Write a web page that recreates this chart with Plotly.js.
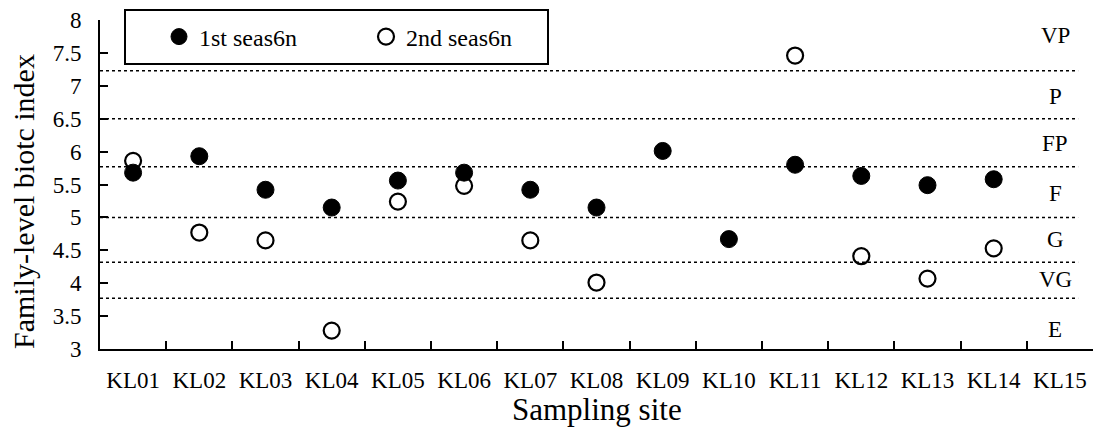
<!DOCTYPE html>
<html><head><meta charset="utf-8">
<script src="https://cdn.plot.ly/plotly-3.0.1.min.js"></script>
<style>html,body{margin:0;padding:0;background:#fff}#chart{width:1098px;height:428px}</style>
</head><body><div id="chart"></div>
<script>
const sites = ['KL01','KL02','KL03','KL04','KL05','KL06','KL07','KL08','KL09','KL10','KL11','KL12','KL13','KL14','KL15'];
const season1 = [5.68, 5.93, 5.42, 5.15, 5.56, 5.68, 5.42, 5.15, 6.01, 4.67, 5.80, 5.63, 5.49, 5.58, null];
const season2 = [5.86, 4.77, 4.65, 3.28, 5.24, 5.48, 4.65, 4.01, null, null, 7.46, 4.41, 4.07, 4.53, null];
const thresholds = [7.23, 6.5, 5.77, 5.0, 4.32, 3.77];
const classLabels = ['VP', 'P', 'FP', 'F', 'G', 'VG', 'E'];
const classLabelY = [7.76, 6.83, 6.12, 5.36, 4.67, 4.05, 3.29];
const yTicks = [3, 3.5, 4, 4.5, 5, 5.5, 6, 6.5, 7, 7.5, 8];
const xTitle = 'Sampling site';
const yTitle = 'Family-level biotc index';

const font = '"Liberation Serif", "Times New Roman", serif';

const traces = [
  {type:'scatter', mode:'markers', name:'1st seas6n', x:sites, y:season1,
   marker:{symbol:'circle', size:17, color:'#000', line:{color:'#000', width:1}}},
  {type:'scatter', mode:'markers', name:'2nd seas6n', x:sites, y:season2,
   marker:{symbol:'circle-open', size:16, color:'#000', line:{color:'#000', width:2.2}}}
];

const shapes = thresholds.map(v => ({type:'line', xref:'paper', yref:'y', x0:0, x1:0.985, y0:v, y1:v,
  line:{color:'#000', width:1.5, dash:'dot'}, layer:'below'}));
shapes.push({type:'rect', xref:'paper', yref:'paper', x0:(125-100)/993, x1:(548-100)/993, y0:(349-64)/329, y1:(349-10)/329,
  line:{color:'#000', width:2}, fillcolor:'rgba(0,0,0,0)'});

const annotations = classLabels.map((t,i) => ({text:t, xref:'paper', yref:'y', x:0.962, y:classLabelY[i],
  showarrow:false, xanchor:'center', yanchor:'middle', font:{family:font, size:23, color:'#000'}}));
annotations.push({text:xTitle, xref:'paper', yref:'paper', x:0.5, y:(349-428)/329, xanchor:'center', yanchor:'bottom',
  showarrow:false, borderpad:0, font:{family:font, size:31, color:'#000'}});
annotations.push({text:yTitle, xref:'paper', yref:'paper', x:(23-100)/993, y:(349-202)/329, xanchor:'center', yanchor:'middle',
  textangle:-90, showarrow:false, font:{family:font, size:30, color:'#000'}});

const layout = {
  width:1098, height:428,
  margin:{l:100, r:5, t:20, b:79},
  paper_bgcolor:'#fff', plot_bgcolor:'#fff',
  font:{family:font, size:22, color:'#000'},
  showlegend:true,
  legend:{orientation:'h', x:(159-100)/993, y:(349-37)/329, xanchor:'left', yanchor:'middle',
    bgcolor:'rgba(0,0,0,0)', borderwidth:0, entrywidth:162, font:{family:font, size:24, color:'#000'}},
  xaxis:{type:'category', categoryorder:'array', categoryarray:sites, range:[-0.5, 14.5],
    showline:true, linecolor:'#000', linewidth:2, showgrid:false, zeroline:false,
    ticks:'inside', tickson:'boundaries', ticklen:8, tickwidth:2, tickcolor:'#000',
    ticklabelstandoff:9, tickfont:{family:font, size:23}},
  yaxis:{range:[3, 8], tickvals:yTicks, ticktext:yTicks.map(String),
    showline:true, linecolor:'#000', linewidth:2, showgrid:false, zeroline:false,
    ticks:'inside', ticklen:8, tickwidth:2, tickcolor:'#000',
    ticklabelstandoff:12, tickfont:{family:font, size:23}},
  shapes:shapes, annotations:annotations
};

Plotly.newPlot('chart', traces, layout, {staticPlot:true, displayModeBar:false});
</script></body></html>
